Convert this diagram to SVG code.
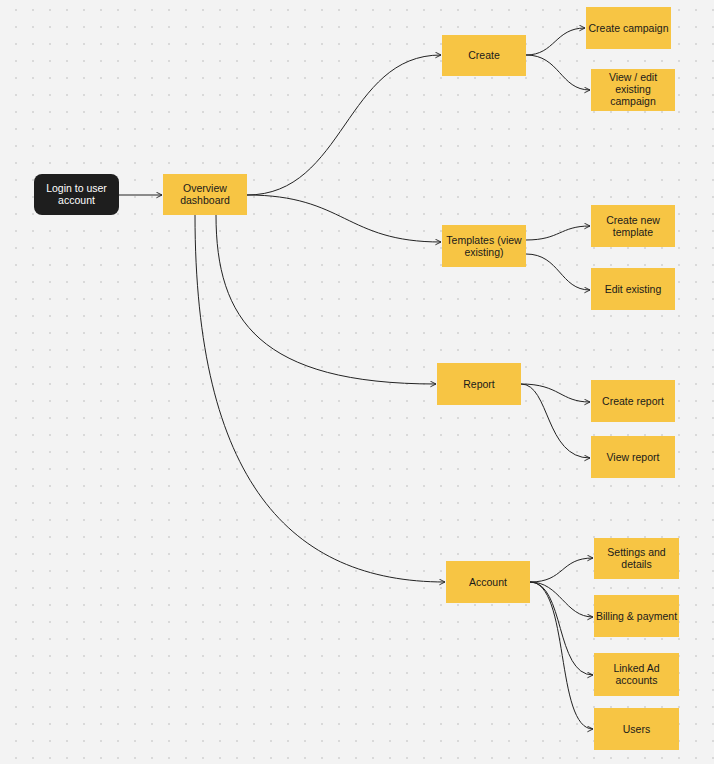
<svg xmlns="http://www.w3.org/2000/svg" width="714" height="764" viewBox="0 0 714 764">
<style>
.n rect{fill:#f7c544}
.n text,.d text{font-family:"Liberation Sans",Arial,sans-serif;font-size:10.5px;fill:#1a1a1a;text-anchor:middle}
.d rect{fill:#1e1e1e}
.d text{fill:#fff}
#edges path{fill:none;stroke:#222;stroke-width:1;marker-end:url(#a)}
</style>
<defs>
<pattern id="g" width="17" height="17" patternUnits="userSpaceOnUse" x="8" y="2"><circle cx="8" cy="8" r="0.8" fill="#b8b8b8"/></pattern>
<marker id="a" viewBox="0 0 10 10" refX="9" refY="5" markerWidth="7" markerHeight="7" orient="auto" markerUnits="userSpaceOnUse"><path d="M1,1 L9,5 L1,9" fill="none" stroke="#222" stroke-width="1.3"/></marker>
</defs>
<rect width="714" height="764" fill="#f3f3f3"/>
<rect width="714" height="764" fill="url(#g)"/>
<g id="edges">
<path d="M119,195 H162"/>
<path d="M247,195 C345,195 345,55 441,55"/>
<path d="M247,195 C345,195 345,242 441,242"/>
<path d="M216,215 C216,320 260,384 436,384"/>
<path d="M195,215 C195,480 290,582 445,582"/>
<path d="M526,55 C555,55 555,28 585,28"/>
<path d="M526,55 C560,55 560,90 590,90"/>
<path d="M526,240 C560,240 560,226 590,226"/>
<path d="M526,254 C560,254 560,290 590,290"/>
<path d="M521,384 C560,384 560,402 590,402"/>
<path d="M521,384 C550,384 545,458 590,458"/>
<path d="M530,582 C565,582 560,558 593,558"/>
<path d="M530,582 C560,582 565,617 593,617"/>
<path d="M530,582 C565,582 555,675 593,675"/>
<path d="M530,582 C570,582 555,729 593,729"/>
</g>
<g id="login" class="d"><rect x="34" y="174" width="85" height="41" rx="8"/><text x="76.5" y="192">Login to user</text><text x="76.5" y="204">account</text></g>
<g id="overview" class="n"><rect x="163" y="174" width="84" height="41"/><text x="205" y="192">Overview</text><text x="205" y="204">dashboard</text></g>
<g id="create" class="n"><rect x="442" y="35" width="84" height="41"/><text x="484" y="59">Create</text></g>
<g id="templates" class="n"><rect x="442" y="225" width="84" height="42"/><text x="484" y="244">Templates (view</text><text x="484" y="256">existing)</text></g>
<g id="report" class="n"><rect x="437" y="363" width="84" height="42"/><text x="479" y="388">Report</text></g>
<g id="account" class="n"><rect x="446" y="561" width="84" height="42"/><text x="488" y="586">Account</text></g>
<g id="createcampaign" class="n"><rect x="586" y="7" width="85" height="42"/><text x="628.5" y="32">Create campaign</text></g>
<g id="viewedit" class="n"><rect x="591" y="69" width="84" height="42"/><text x="633" y="81">View  / edit</text><text x="633" y="93">existing</text><text x="633" y="105">campaign</text></g>
<g id="createtemplate" class="n"><rect x="591" y="205" width="84" height="42"/><text x="633" y="224">Create new</text><text x="633" y="236">template</text></g>
<g id="editexisting" class="n"><rect x="591" y="268" width="84" height="42"/><text x="633" y="293">Edit existing</text></g>
<g id="createreport" class="n"><rect x="591" y="380" width="84" height="42"/><text x="633" y="405">Create report</text></g>
<g id="viewreport" class="n"><rect x="591" y="436" width="84" height="42"/><text x="633" y="461">View report</text></g>
<g id="settings" class="n"><rect x="594" y="538" width="85" height="41"/><text x="636.5" y="556">Settings and</text><text x="636.5" y="568">details</text></g>
<g id="billing" class="n"><rect x="594" y="595" width="85" height="42"/><text x="636.5" y="620">Billing &amp; payment</text></g>
<g id="linked" class="n"><rect x="594" y="653" width="85" height="43"/><text x="636.5" y="672">Linked Ad</text><text x="636.5" y="684">accounts</text></g>
<g id="users" class="n"><rect x="594" y="708" width="85" height="42"/><text x="636.5" y="733">Users</text></g>
</svg>
